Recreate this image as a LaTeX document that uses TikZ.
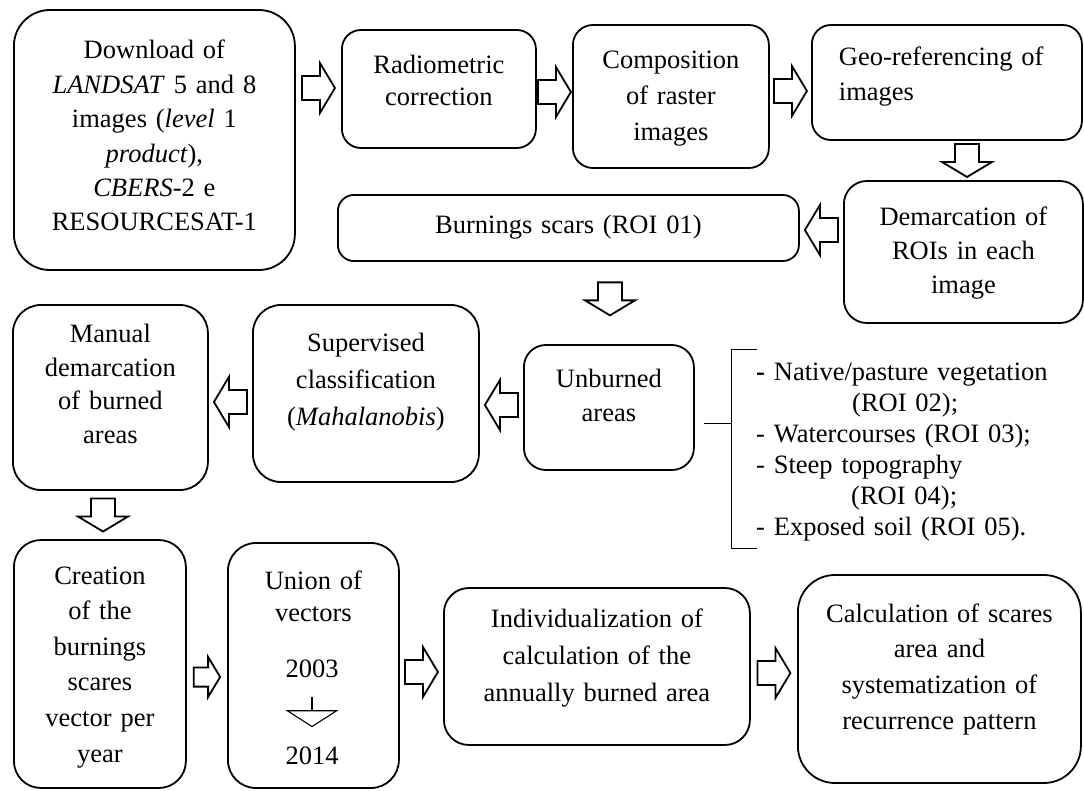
\documentclass[tikz,border=0pt]{standalone}
\usepackage{fontspec}
\setmainfont{Liberation Serif}
\usetikzlibrary{calc,arrows.meta}

\tikzset{
  box/.style={draw, line width=1.8pt, rounded corners=#1, inner sep=0pt, align=center, anchor=base west},
  box/.default=20pt,
  lsp/.style={font=\fontsize{26.5}{#1}\selectfont},
  pics/barrow/.style={code={
    \draw[line width=1.8pt, fill=white] (-16.5,-12) -- (1.5,-12) -- (1.5,-25) -- (16.5,0) -- (1.5,25) -- (1.5,12) -- (-16.5,12) -- cycle;
  }},
}

\begin{document}
\begin{tikzpicture}[x=1pt, y=-1pt, font=\fontsize{26.5}{34.5}\selectfont]
\useasboundingbox (0,0) rectangle (1084,791);

% first row
\node[box=36pt, lsp=34.4, text width=281pt, text height=49pt, text depth=211pt] (dl) at (13,59)
  {Download of\\\textit{LANDSAT} 5 and 8\\images (\textit{level} 1\\\textit{product}),\\\textit{CBERS}-2 e\\RESOURCESAT-1};
\node[box=19pt, lsp=32, text width=194pt, text height=44pt, text depth=74pt] (rad) at (341,74)
  {Radiometric\\correction};
\node[box=20pt, lsp=36, text width=196pt, text height=44pt, text depth=99pt] (comp) at (572,69)
  {Composition\\of raster\\images};
\node[box=19pt, lsp=35, align=left, text width=270pt, text height=41pt, text depth=74pt] (geo) at (811,66)
  {\hspace*{27pt}Geo-referencing of\\\hspace*{27pt}images};

% second row
\node[box=23pt, lsp=34, text width=239pt, text height=45pt, text depth=97pt] (dem) at (843,226)
  {Demarcation of\\ROIs in each\\image};
\node[box=16pt, text width=461pt, text height=39pt, text depth=27pt] (scar) at (337,234)
  {Burnings scars (ROI 01)};

% third row
\node[box=22pt, lsp=34, text width=170pt, text height=43pt, text depth=82pt] (unb) at (523,388)
  {Unburned\\areas};
\node[box=28pt, lsp=37, text width=226pt, text height=47pt, text depth=130pt] (sup) at (252,352)
  {Supervised\\classification\\(\textit{Mahalanobis})};
\node[box=28pt, lsp=33.5, text width=195pt, text height=38pt, text depth=147pt] (man) at (12,343)
  {Manual\\demarcation\\of burned\\areas};

\node[lsp=31, align=left, text width=330pt, inner sep=0pt, anchor=base west] (lst) at (756,381)
  {\textbf{-} Native/pasture vegetation\\\hspace*{96pt}(ROI 02);\\- Watercourses (ROI 03);\\- Steep topography\\\hspace*{95pt}(ROI 04);\\- Exposed soil (ROI 05).};
\coordinate (brl) at (704,423);
\coordinate (brt) at (731,423);
\draw[line width=1pt] (757,350) -| (731,548) -- (757,548);
\draw[line width=1pt] (brl) -- (brt);

% last row
\node[box=27pt, lsp=35.6, text width=172pt, text height=44pt, text depth=204pt] (cre) at (13,584)
  {Creation\\of the\\burnings\\scares\\vector per\\year};
\node[box=28pt, lsp=32, text width=171pt, text height=46pt, text depth=199pt] (uni) at (227,589)
  {Union of\\vectors};
\node[inner sep=0pt, anchor=base] (y03) at (312,677) {2003};
\node[inner sep=0pt, anchor=base] (y14) at (312,764) {2014};
\draw[line width=1.1pt, -{Triangle[open, length=17pt, width=53pt]}, shorten <=20pt, shorten >=19pt] (y03.south) -- (y14.north);
\node[box=25pt, lsp=37, text width=306pt, text height=39pt, text depth=118pt] (ind) at (443,627)
  {Individualization of\\calculation of the\\annually burned area};
\node[box=37pt, lsp=35.7, text width=283pt, text height=47pt, text depth=161pt] (calc) at (797,622)
  {Calculation of scares\\area and\\systematization of\\recurrence pattern};

% block arrows
\pic at ($(dl.east |- 0,88)!.5!(rad.west |- 0,88)$) {barrow};
\pic at ($(rad.east |- 0,92)!.5!(comp.west |- 0,92)$) {barrow};
\pic at ($(comp.east |- 0,91)!.5!(geo.west |- 0,91)$) {barrow};
\pic[rotate=-90] at ($(geo.south -| 967,0)!.5!(dem.north -| 967,0)$) {barrow};
\pic[rotate=180] at ($(dem.west |- 0,230)!.5!(scar.east |- 0,230)$) {barrow};
\pic[rotate=-90] at ($(scar.south -| 610,0)!.45!(unb.north -| 610,0)$) {barrow};
\pic[rotate=180] at ($(unb.west |- 0,405)!.5!(sup.east |- 0,405)$) {barrow};
\pic[rotate=180] at ($(sup.west |- 0,402)!.5!(man.east |- 0,402)$) {barrow};
\pic[rotate=-90] at ($(man.south -| 103,0)!.5!(cre.north -| 103,0)$) {barrow};
\pic[scale=.8] at ($(cre.east |- 0,677)!.5!(uni.west |- 0,677)$) {barrow};
\pic at ($(uni.east |- 0,672)!.5!(ind.west |- 0,672)$) {barrow};
\pic at ($(ind.east |- 0,673)!.5!(calc.west |- 0,673)$) {barrow};
\end{tikzpicture}
\end{document}
